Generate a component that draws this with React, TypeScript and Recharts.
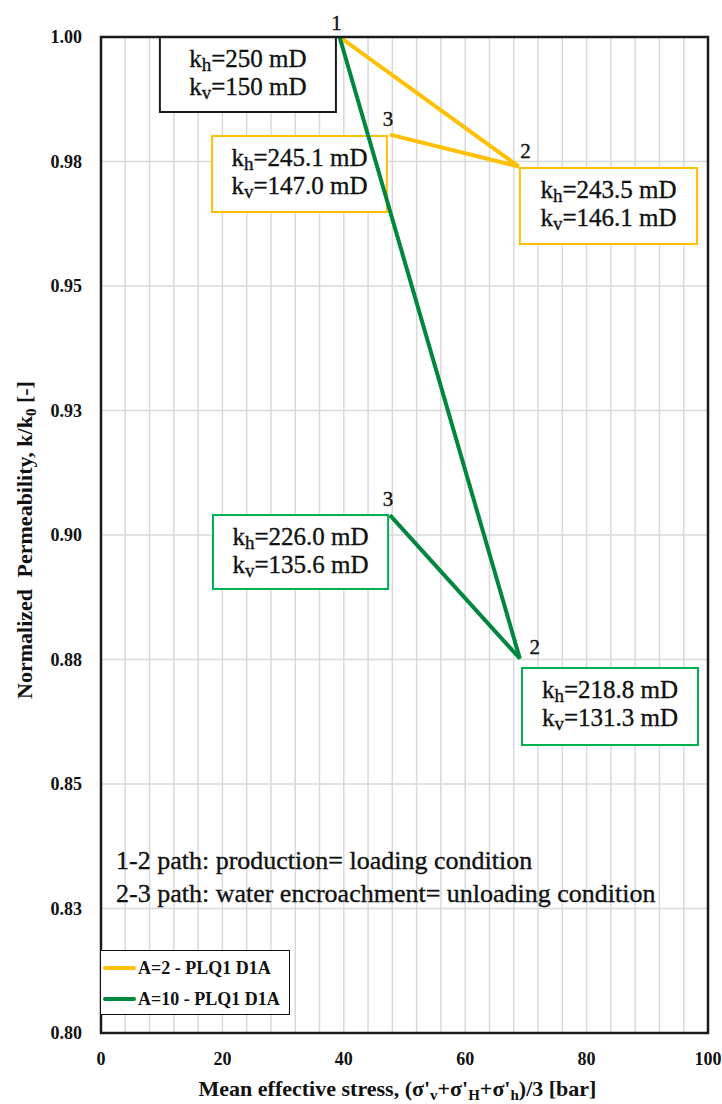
import React from 'react';
import {
  ComposedChart,
  Line,
  XAxis,
  YAxis,
  CartesianGrid,
  ReferenceArea,
  ReferenceLine,
  Legend,
  LabelList,
} from 'recharts';

const FONT = '"Liberation Serif", "Times New Roman", serif';
const YELLOW = '#FFC000';
const GREEN_LINE = '#00873E';
const GREEN_BOX = '#00B050';
const GRID = '#d9d9d9';
const INK = '#111';

// ---- data ----
const stepLabels = ['1', '2', '3'];
// A=2 series: mean effective stress [bar] and normalized permeability
const stressA2 = [39.3, 68.8, 47.6];
const permA2 = [1.0, 0.974, 0.9804];
// A=10 series
const stressA10 = [39.3, 69.0, 47.6];
const permA10 = [1.0, 0.8752, 0.904];

const seriesNames = ['A=2 - PLQ1 D1A', 'A=10 - PLQ1 D1A'];

const xTicks = [0, 20, 40, 60, 80, 100];
const xMinorGrid = [0, 4, 8, 12, 16, 20, 24, 28, 32, 36, 40, 44, 48, 52, 56, 60, 64, 68, 72, 76, 80, 84, 88, 92, 96, 100];
const yTicks = [0.8, 0.825, 0.85, 0.875, 0.9, 0.925, 0.95, 0.975, 1.0];
const yTickLabels = ['0.80', '0.83', '0.85', '0.88', '0.90', '0.93', '0.95', '0.98', '1.00'];

// annotation texts
const boxKh = ['250', '245.1', '243.5', '226.0', '218.8'];
const boxKv = ['150', '147.0', '146.1', '135.6', '131.3'];
const pathNotes = [
  '1-2 path: production= loading condition',
  '2-3 path: water encroachment= unloading condition',
];

// annotation layout (data coordinates)
const boxLayout = [
  { x1: 9.7, x2: 38.7, y1: 0.98494, y2: 1.0, color: '#1a1a1a' },
  { x1: 18.3, x2: 47.1, y1: 0.96486, y2: 0.98012, color: YELLOW },
  { x1: 69.0, x2: 98.2, y1: 0.95843, y2: 0.97369, color: YELLOW },
  { x1: 18.45, x2: 47.3, y1: 0.88916, y2: 0.90402, color: GREEN_BOX },
  { x1: 69.36, x2: 98.35, y1: 0.85783, y2: 0.87329, color: GREEN_BOX },
];
const notesArea = { x1: 2.47, x2: 96, y1: 0.826, y2: 0.83775 };

const dataA2 = stepLabels.map((step, i) => ({ step, stress: stressA2[i], perm: permA2[i] }));
const dataA10 = stepLabels.map((step, i) => ({ step, stress: stressA10[i], perm: permA10[i] }));

const formatY = (v: number) => {
  let best = 0;
  yTicks.forEach((t, i) => {
    if (Math.abs(t - v) < Math.abs(yTicks[best] - v)) best = i;
  });
  return yTickLabels[best];
};

const heavy = { stroke: INK, strokeWidth: 0.35 };

const BoxLabel = (props: any) => {
  const { viewBox, kh, kv } = props;
  if (!viewBox) return null;
  const cx = viewBox.x + viewBox.width / 2;
  const top = viewBox.y;
  return (
    <g>
      <text x={cx} y={top + 30} textAnchor="middle" fontFamily={FONT} fontSize={25} fill={INK} {...heavy}>
        <tspan>k</tspan>
        <tspan fontSize={19} dy={4}>h</tspan>
        <tspan dy={-4}>{'=' + kh + ' mD'}</tspan>
      </text>
      <text x={cx} y={top + 58} textAnchor="middle" fontFamily={FONT} fontSize={25} fill={INK} {...heavy}>
        <tspan>k</tspan>
        <tspan fontSize={19} dy={4}>v</tspan>
        <tspan dy={-4}>{'=' + kv + ' mD'}</tspan>
      </text>
    </g>
  );
};

const NotesLabel = (props: any) => {
  const { viewBox } = props;
  if (!viewBox) return null;
  return (
    <g>
      {pathNotes.map((t, i) => (
        <text key={i} x={viewBox.x} y={viewBox.y + 24 + i * 33} fontFamily={FONT} fontSize={26} fill={INK} {...heavy}>
          {t}
        </text>
      ))}
    </g>
  );
};

const YTitle = (props: any) => {
  const { viewBox } = props;
  if (!viewBox) return null;
  const cx = viewBox.x + viewBox.width - 69;
  const cy = viewBox.y + viewBox.height / 2 + 5;
  return (
    <text
      x={cx}
      y={cy}
      transform={`rotate(-90, ${cx}, ${cy})`}
      textAnchor="middle"
      fontFamily={FONT}
      fontSize={22}
      fontWeight="bold"
      fill={INK}
    >
      <tspan>{'Normalized '}</tspan>
      <tspan dx={6}>{'Permeability, k/k'}</tspan>
      <tspan fontSize={15} dy={4}>0</tspan>
      <tspan dy={-4}>{' [-]'}</tspan>
    </text>
  );
};

const XTitle = (props: any) => {
  const { viewBox } = props;
  if (!viewBox) return null;
  const cx = viewBox.x + viewBox.width / 2 - 7;
  const y = viewBox.y + 63;
  const sub = { fontSize: 15, dy: 4 };
  return (
    <text x={cx} y={y} textAnchor="middle" fontFamily={FONT} fontSize={22} fontWeight="bold" fill={INK}>
      <tspan>{"Mean effective stress, (σ'"}</tspan>
      <tspan {...sub}>v</tspan>
      <tspan dy={-4}>{"+σ'"}</tspan>
      <tspan {...sub}>H</tspan>
      <tspan dy={-4}>{"+σ'"}</tspan>
      <tspan {...sub}>h</tspan>
      <tspan dy={-4}>{')/3 [bar]'}</tspan>
    </text>
  );
};

const makeStepLabel = (second: { dx: number; dy: number }, skipFirst: boolean) => (props: any) => {
  const { index, value, viewBox } = props;
  const px = props.x ?? viewBox?.x;
  const py = props.y ?? viewBox?.y;
  if (px == null || py == null) return null;
  if (skipFirst && index === 0) return null;
  const off = index === 0 ? { dx: -3, dy: -7 } : index === 1 ? second : { dx: -2, dy: -9 };
  return (
    <text x={px + off.dx} y={py + off.dy} textAnchor="middle" fontFamily={FONT} fontSize={21} fill={INK} {...heavy}>
      {value}
    </text>
  );
};

const renderLegend = (props: any) => {
  const payload = [...(props.payload || [])].sort(
    (a: any, b: any) => seriesNames.indexOf(a.value) - seriesNames.indexOf(b.value)
  );
  return (
    <div
      style={{
        width: 190,
        height: 65,
        boxSizing: 'border-box',
        border: '1.5px solid #111',
        background: '#fff',
        position: 'relative',
        fontFamily: FONT,
      }}
    >
      {payload.map((entry: any, i: number) => (
        <div
          key={i}
          style={{ position: 'absolute', left: 2, top: 6 + i * 31, height: 22, display: 'flex', alignItems: 'center' }}
        >
          <div style={{ width: 33, height: 4, background: entry.color, borderRadius: 2 }} />
          <span style={{ marginLeft: 2, fontSize: 18, fontWeight: 'bold', color: INK, whiteSpace: 'nowrap' }}>
            {entry.value}
          </span>
        </div>
      ))}
    </div>
  );
};

export default function App() {
  return (
    <div style={{ position: 'absolute', left: 0, top: 0, width: 722, height: 1104, background: '#fff' }}>
      <ComposedChart width={722} height={1104} margin={{ top: 37, right: 14, bottom: 31, left: 11 }}>
        <CartesianGrid vertical={false} stroke={GRID} strokeWidth={1.5} />
        {xMinorGrid.map((v) => (
          <ReferenceLine key={'g' + v} x={v} stroke={GRID} strokeWidth={1.5} zIndex={-90} />
        ))}
        <XAxis
          type="number"
          dataKey="stress"
          domain={[0, 100]}
          ticks={xTicks}
          interval={0}
          axisLine={false}
          tickLine={false}
          tickSize={0}
          tickMargin={19}
          height={40}
          tick={{ fontFamily: FONT, fontSize: 18, fontWeight: 'bold', fill: INK }}
          label={<XTitle />}
        />
        <YAxis
          type="number"
          domain={[0.8, 1.0]}
          ticks={yTicks}
          interval={0}
          allowDataOverflow
          axisLine={false}
          tickLine={false}
          tickSize={0}
          tickMargin={19}
          width={90}
          tickFormatter={formatY}
          tick={{ fontFamily: FONT, fontSize: 18, fontWeight: 'bold', fill: INK }}
          label={<YTitle />}
        />
        {boxLayout.map((b, i) => (
          <ReferenceArea
            key={'b' + i}
            x1={b.x1}
            x2={b.x2}
            y1={b.y1}
            y2={b.y2}
            stroke={b.color}
            strokeWidth={2}
            fill="#fff"
            fillOpacity={1}
            zIndex={100}
            label={<BoxLabel kh={boxKh[i]} kv={boxKv[i]} />}
          />
        ))}
        <ReferenceArea
          x1={notesArea.x1}
          x2={notesArea.x2}
          y1={notesArea.y1}
          y2={notesArea.y2}
          fill="none"
          stroke="none"
          zIndex={100}
          label={<NotesLabel />}
        />
        <Line
          data={dataA2}
          dataKey="perm"
          name={seriesNames[0]}
          type="linear"
          stroke={YELLOW}
          strokeWidth={4}
          dot={false}
          activeDot={false}
          isAnimationActive={false}
        >
          <LabelList dataKey="step" content={makeStepLabel({ dx: 7, dy: -8 }, false)} />
        </Line>
        <Line
          data={dataA10}
          dataKey="perm"
          name={seriesNames[1]}
          type="linear"
          stroke={GREEN_LINE}
          strokeWidth={4}
          dot={false}
          activeDot={false}
          isAnimationActive={false}
        >
          <LabelList dataKey="step" content={makeStepLabel({ dx: 15, dy: -5 }, true)} />
        </Line>
        <ReferenceArea
          x1={0}
          x2={100}
          y1={0.8}
          y2={1.0}
          fill="none"
          stroke="#1a1a1a"
          strokeWidth={2.5}
          zIndex={500}
        />
        <Legend
          layout="vertical"
          verticalAlign="middle"
          align="center"
          itemSorter={null as any}
          content={renderLegend}
          wrapperStyle={{ left: 100, top: 950, width: 190, height: 65 }}
        />
      </ComposedChart>
    </div>
  );
}
